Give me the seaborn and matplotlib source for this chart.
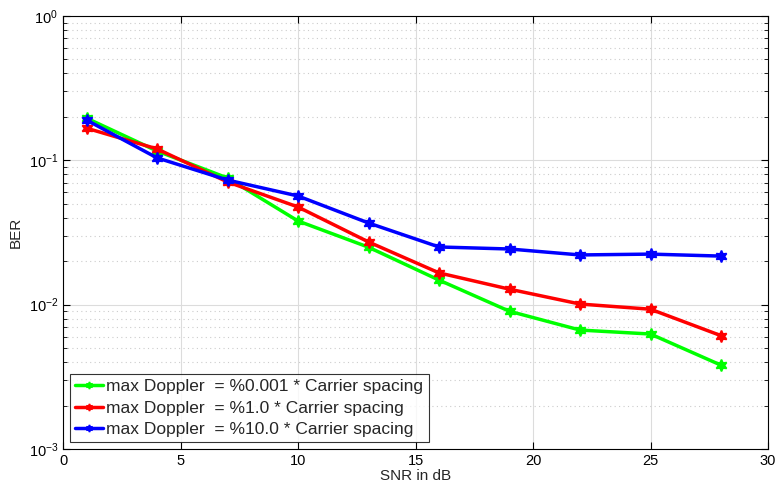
import numpy as np
import pandas as pd
import matplotlib
matplotlib.use("Agg")
import matplotlib.pyplot as plt
import seaborn as sns
from matplotlib.ticker import LogLocator, NullFormatter

# --- data ---
snr_db = [1, 4, 7, 10, 13, 16, 19, 22, 25, 28]
ber_0001 = [0.196, 0.116, 0.0754, 0.038, 0.025, 0.0148, 0.0090, 0.00667, 0.00626, 0.00381]
ber_1 = [0.167, 0.120, 0.0708, 0.0475, 0.0272, 0.0166, 0.0128, 0.0101, 0.0093, 0.0061]
ber_10 = [0.190, 0.104, 0.073, 0.0566, 0.0368, 0.0251, 0.0243, 0.0221, 0.0224, 0.0217]

labels = [
    "max Doppler  = %0.001 * Carrier spacing",
    "max Doppler  = %1.0 * Carrier spacing",
    "max Doppler  = %10.0 * Carrier spacing",
]
colors = ["#00ff00", "#ff0000", "#0000ff"]

df = pd.DataFrame({
    "snr": snr_db * 3,
    "ber": ber_0001 + ber_1 + ber_10,
    "case": [labels[0]] * 10 + [labels[1]] * 10 + [labels[2]] * 10,
})

sns.set_style("white")
plt.rcParams["font.family"] = ["Liberation Sans", "DejaVu Sans"]

fig = plt.figure(figsize=(7.76, 4.91), dpi=100)
ax = fig.add_axes([0.0812, 0.0855, 0.9085, 0.882])

sns.lineplot(data=df, x="snr", y="ber", hue="case", hue_order=labels,
             palette=colors, marker=(6, 1, 0), markersize=8.5, markeredgewidth=1.2,
             linewidth=2.5, ax=ax, legend=True)
# matlab-style markers: edge in the line colour
for ln in ax.get_lines():
    ln.set_markeredgecolor(ln.get_color())

ax.set_yscale("log")
ax.set_xlim(0, 30)
ax.set_ylim(1e-3, 1)
ax.set_xticks(range(0, 31, 5))
ax.yaxis.set_major_locator(LogLocator(base=10, numticks=10))
ax.yaxis.set_minor_locator(LogLocator(base=10, subs=np.arange(2, 10), numticks=20))
ax.yaxis.set_minor_formatter(NullFormatter())

ax.grid(True, which="major", color="#dcdcdc", linewidth=0.8, linestyle="-")
ax.grid(True, which="minor", axis="y", color="#cccccc", linewidth=0.8, linestyle=(0, (1, 3)))
ax.set_axisbelow(True)

ax.tick_params(which="both", direction="in", labelsize=10.5, colors="black")
ax.tick_params(which="major", length=5)
ax.tick_params(which="minor", length=3)
ax.tick_params(which="both", top=True, right=True, bottom=True, left=True)
for sp in ax.spines.values():
    sp.set_color("black")
    sp.set_linewidth(0.8)

ax.set_xlabel("SNR in dB", fontsize=11, labelpad=1)
ax.set_ylabel("BER", fontsize=11)

leg = ax.legend(loc="lower left", fontsize=12.5, frameon=True, fancybox=False,
                edgecolor="black", borderaxespad=0.4, handlelength=1.6,
                handletextpad=0.2, labelspacing=0.35, borderpad=0.3)
leg.get_frame().set_linewidth(0.8)
for h in leg.legend_handles:
    h.set_markersize(5)
    h.set_markeredgecolor(h.get_color())
    h.set_linestyle("-")

fig.savefig("out.png", dpi=100)
